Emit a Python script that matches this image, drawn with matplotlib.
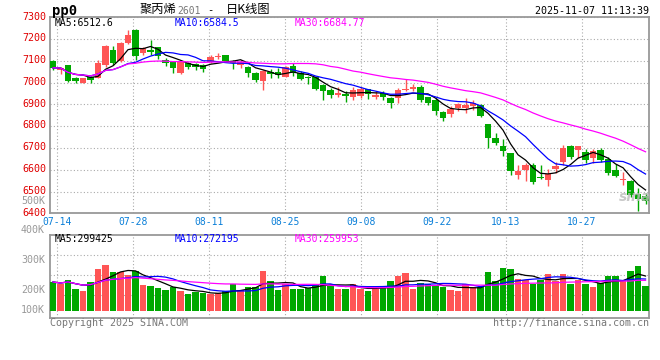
import numpy as np
import pandas as pd
import matplotlib
matplotlib.use('Agg')
import matplotlib.pyplot as plt
from matplotlib.transforms import ScaledTranslation

# daily bars, 2025-07-11 .. 2025-11-07 (80 sessions)
opens = [7101, 7060, 7080, 7020, 7000, 7026, 7022, 7080, 7150, 7100,
         7180, 7240, 7135, 7152, 7162, 7105, 7098, 7043, 7090, 7085,
         7081, 7095, 7118, 7127, 7100, 7081, 7073, 7045, 7006, 7049,
         7047, 7027, 7078, 7045, 7027, 7024, 6989, 6966, 6943, 6946,
         6935, 6940, 6970, 6936, 6953, 6931, 6931, 6964, 6971, 6981,
         6932, 6918, 6867, 6857, 6884, 6884, 6891, 6898, 6808, 6744,
         6709, 6676, 6574, 6597, 6622, 6568, 6553, 6604, 6636, 6709,
         6689, 6683, 6653, 6690, 6650, 6599, 6553, 6550, 6489, 6479]
highs = [7104, 7072, 7082, 7024, 7023, 7030, 7102, 7174, 7168, 7186,
         7240, 7244, 7165, 7196, 7164, 7112, 7100, 7100, 7093, 7092,
         7085, 7126, 7135, 7128, 7105, 7104, 7075, 7050, 7056, 7063,
         7066, 7078, 7089, 7052, 7032, 7026, 6992, 6975, 6979, 6960,
         6978, 6978, 6972, 6963, 6962, 6933, 6975, 7016, 6995, 6989,
         6935, 6928, 6872, 6893, 6908, 6930, 6920, 6902, 6812, 6770,
         6740, 6678, 6622, 6630, 6630, 6622, 6605, 6637, 6714, 6714,
         6709, 6694, 6694, 6701, 6660, 6627, 6591, 6552, 6515, 6495]
lows = [7058, 7040, 7003, 7000, 7000, 7000, 7020, 7072, 7081, 7095,
        7178, 7104, 7127, 7128, 7108, 7075, 7045, 7040, 7063, 7056,
        7050, 7092, 7108, 7098, 7063, 7066, 7027, 7004, 6967, 7020,
        7023, 7025, 7032, 7010, 6993, 6965, 6918, 6930, 6935, 6912,
        6922, 6930, 6925, 6923, 6920, 6885, 6905, 6962, 6960, 6913,
        6897, 6853, 6823, 6842, 6872, 6860, 6874, 6840, 6700, 6713,
        6663, 6576, 6557, 6549, 6534, 6557, 6525, 6584, 6624, 6648,
        6652, 6633, 6630, 6635, 6575, 6568, 6530, 6473, 6412, 6443]
closes = [7068, 7066, 7008, 7009, 7023, 7012, 7092, 7170, 7090, 7184,
          7221, 7124, 7160, 7141, 7120, 7088, 7067, 7098, 7070, 7073,
          7062, 7119, 7122, 7100, 7090, 7095, 7045, 7011, 7052, 7040,
          7035, 7073, 7045, 7015, 7019, 6970, 6962, 6942, 6953, 6940,
          6965, 6969, 6946, 6945, 6936, 6908, 6966, 6970, 6980, 6920,
          6906, 6868, 6836, 6878, 6900, 6897, 6908, 6846, 6745, 6721,
          6688, 6595, 6594, 6624, 6545, 6561, 6580, 6619, 6700, 6660,
          6707, 6645, 6686, 6645, 6584, 6573, 6557, 6484, 6464, 6458]
volumes_k = [248, 231, 268, 188, 171, 248, 359, 396, 334, 334,
             311, 342, 225, 217, 200, 182, 205, 171, 148, 160,
             154, 143, 151, 171, 231, 180, 205, 205, 345, 257,
             182, 228, 188, 188, 194, 222, 302, 212, 188, 188,
             231, 188, 171, 188, 203, 257, 299, 325, 188, 240,
             234, 220, 205, 180, 171, 231, 208, 203, 334, 257,
             368, 359, 274, 265, 228, 265, 317, 259, 317, 234,
             265, 234, 205, 237, 299, 299, 257, 342, 385, 214]

date_labels = ['07-14', '07-28', '08-11', '08-25', '09-08', '09-22', '10-13', '10-27']
date_idx = [1, 11, 21, 31, 41, 51, 60, 70]
price_ticks = list(range(6400, 7301, 100))
vol_axis_labels = ['500K', '400K', '300K', '200K', '100K']

ma_windows = [5, 10, 30]
price_ma_now = ['6512.6', '6584.5', '6684.77']
vol_ma_now = ['299425', '272195', '259953']

RED = '#ff5555'
GREEN = '#00a800'
MA_COLORS = ['black', '#0000ff', '#ff00ff']
GRID = dict(color='#aaaaaa', linestyle=(0, (1, 2)), linewidth=0.8)
MONO = 'DejaVu Sans Mono'
W, H = 660, 360


def fx(px):
    return px / W


def fy(py):
    return 1 - py / H


def style_axes(ax):
    for s in ax.spines.values():
        s.set_color('#999999')
        s.set_linewidth(1.3)
    ax.tick_params(length=0)
    ax.grid(True, **GRID)
    ax.set_axisbelow(True)


def main():
    fig = plt.figure(figsize=(6.6, 3.6), dpi=100, facecolor='white')
    ax = fig.add_axes([fx(50), fy(213.3), 599.3 / W, 196 / H])
    axv = fig.add_axes([fx(50), fy(318), 599.3 / W, 83.3 / H])

    x = np.arange(len(closes))
    o, h, l, c = (np.array(a, dtype=float) for a in (opens, highs, lows, closes))
    colors = np.where(c >= o, RED, GREEN)

    # candles
    ax.vlines(x, l, h, colors=colors, lw=1, zorder=3)
    ax.bar(x, np.maximum(np.abs(c - o), 4), bottom=np.minimum(o, c),
           width=0.84, color=colors, lw=0, zorder=4)
    cs = pd.Series(c)
    for w, col in zip(ma_windows, MA_COLORS):
        ax.plot(x, cs.rolling(w, min_periods=1).mean(), color=col, lw=0.9, zorder=5)

    # volume
    v = pd.Series(volumes_k, dtype=float)
    axv.bar(x, v, width=0.84, color=colors, lw=0, zorder=3)
    for w, col in zip(ma_windows, MA_COLORS):
        axv.plot(x, v.rolling(w, min_periods=1).mean(), color=col, lw=0.9, zorder=5)

    tick_pos = np.array(date_idx) * 7.6 / 7.5 - 0.44
    for a in (ax, axv):
        a.set_xlim(-0.4, 79.5)
        a.set_xticks(tick_pos)
        style_axes(a)

    ax.set_ylim(6400, 7300)
    ax.set_yticks(price_ticks)
    ax.set_yticklabels([str(t) for t in price_ticks], color='#e00000',
                       family=MONO, fontsize=7.2)
    ax.tick_params(axis='y', pad=2.8)
    lift = ScaledTranslation(0, 0.017, fig.dpi_scale_trans)
    for lab in ax.get_yticklabels():
        lab.set_transform(lab.get_transform() + lift)
    ax.set_xticklabels(date_labels, color='#0a7fd8', family=MONO, fontsize=7)
    ax.tick_params(axis='x', pad=2.5)

    axv.set_ylim(-60, 653)
    axv.set_yticks([134, 305, 476])
    axv.set_yticklabels([])
    axv.set_xticklabels([])

    # volume scale labels, as placed by the source chart
    for lab, py in zip(vol_axis_labels, [200.5, 230, 260, 290, 310]):
        fig.text(fx(45), fy(py), lab, ha='right', va='center', color='#999999',
                 family=MONO, fontsize=7.2)

    # MA headers
    for name, val, col, px in zip(ma_windows, price_ma_now, MA_COLORS, [55, 175, 295]):
        fig.text(fx(px), fy(23.5), f'MA{name}:{val}', ha='left', va='center',
                 color=col, family=MONO, fontsize=7)
    for name, val, col, px in zip(ma_windows, vol_ma_now, MA_COLORS, [55, 175, 295]):
        fig.text(fx(px), fy(238.5), f'MA{name}:{val}', ha='left', va='center',
                 color=col, family=MONO, fontsize=7)

    # title row
    fig.text(fx(52), fy(10.5), 'pp0', ha='left', va='center', family=MONO,
             fontweight='bold', fontsize=10)
    cjk = ['Noto Sans CJK SC', 'DejaVu Sans']
    fig.text(fx(140), fy(10), '聚丙烯', ha='left', va='center', family=cjk, fontsize=8.8)
    fig.text(fx(177), fy(10.5), '2601', ha='left', va='center', family=MONO,
             fontsize=7, color='#777777')
    fig.text(fx(207), fy(10), '-', ha='left', va='center', family=MONO, fontsize=7.5)
    fig.text(fx(226), fy(10), '日K线图', ha='left', va='center', family=cjk, fontsize=8.8)
    fig.text(fx(649), fy(11.5), '2025-11-07 11:13:39', ha='right', va='center',
             family=MONO, fontsize=7.2)

    # footer
    fig.text(fx(50), fy(323.5), 'Copyright 2025 SINA.COM', ha='left', va='center',
             family=MONO, fontsize=7.2, color='#777777')
    fig.text(fx(649), fy(323.5), 'http://finance.sina.com.cn', ha='right', va='center',
             family=MONO, fontsize=7.2, color='#777777')

    # watermark
    fig.text(fx(635), fy(197), 'sina', ha='center', va='center', fontsize=10,
             fontweight='bold', style='italic', color='#bbbbbb', alpha=0.8)

    fig.savefig('out.png', dpi=100, facecolor='white')


if __name__ == "__main__":
    main()
